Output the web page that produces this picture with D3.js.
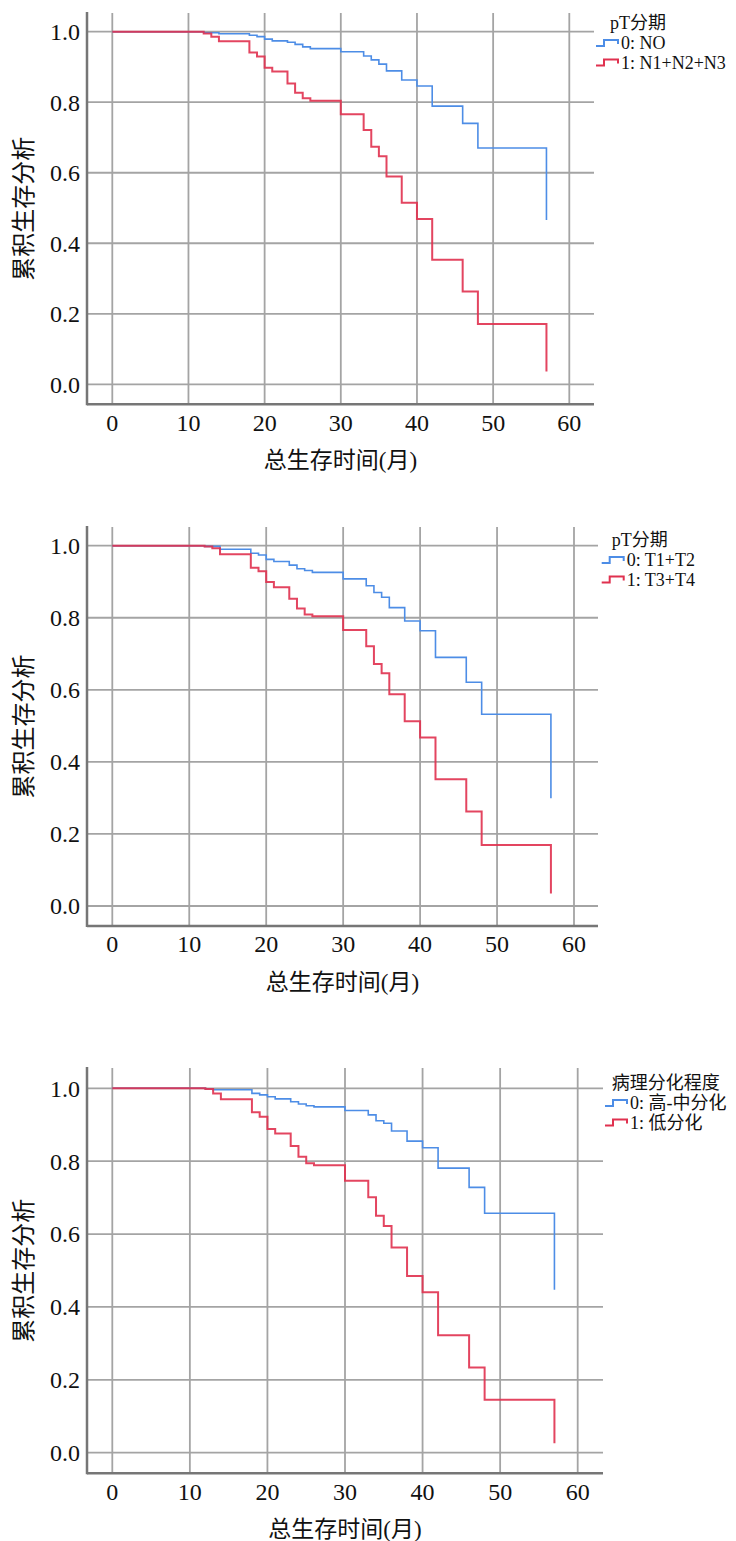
<!DOCTYPE html>
<html>
<head>
<meta charset="utf-8">
<script src="https://cdn.jsdelivr.net/npm/d3@7"></script>
<style>
  body { margin: 0; background: #fff; }
  svg { display: block; }
  text { font-family: "Liberation Serif", "Noto Sans CJK SC", serif; fill: #111; }
</style>
</head>
<body>
<svg width="736" height="1541"></svg>
<script>
// survival time (months) at which each step happens
var months = [0, 12, 13, 14, 18, 19, 20, 21, 23, 24, 25, 26, 30, 33, 34, 35, 36, 38, 40, 42, 46, 48, 57];

// cumulative survival, one value per month above
var nStage0 = [1, 0.997, 0.997, 0.994, 0.990, 0.986, 0.979, 0.974, 0.970, 0.964, 0.957, 0.952, 0.943, 0.931, 0.920, 0.908, 0.889, 0.863, 0.846, 0.789, 0.740, 0.670, 0.466];
var nStage1 = [1, 0.995, 0.986, 0.973, 0.941, 0.930, 0.898, 0.887, 0.853, 0.827, 0.811, 0.804, 0.766, 0.721, 0.674, 0.647, 0.589, 0.515, 0.469, 0.353, 0.263, 0.171, 0.036];
var tStage0 = [1, 0.998, 0.998, 0.990, 0.979, 0.974, 0.962, 0.956, 0.946, 0.936, 0.931, 0.926, 0.908, 0.889, 0.870, 0.857, 0.828, 0.791, 0.764, 0.690, 0.621, 0.532, 0.299];
var tStage1 = [1, 0.998, 0.993, 0.976, 0.939, 0.929, 0.899, 0.885, 0.853, 0.826, 0.809, 0.804, 0.766, 0.721, 0.672, 0.646, 0.588, 0.513, 0.468, 0.352, 0.262, 0.169, 0.035];
var diff0 = [1, 0.998, 0.996, 0.996, 0.986, 0.982, 0.977, 0.971, 0.963, 0.957, 0.952, 0.949, 0.939, 0.927, 0.911, 0.904, 0.883, 0.855, 0.837, 0.781, 0.728, 0.657, 0.447];
var diff1 = [1, 0.998, 0.986, 0.970, 0.934, 0.922, 0.888, 0.876, 0.842, 0.812, 0.794, 0.789, 0.746, 0.701, 0.650, 0.622, 0.563, 0.485, 0.440, 0.322, 0.234, 0.145, 0.026];

var xTicks = [0, 10, 20, 30, 40, 50, 60];
var yTicks = [0, 0.2, 0.4, 0.6, 0.8, 1.0];

var legendTitles = ["pT分期", "pT分期", "病理分化程度"];
var legendLabels = [
  ["0: NO", "1: N1+N2+N3"],
  ["0: T1+T2", "1: T3+T4"],
  ["0: 高-中分化", "1: 低分化"]
];

var xTitle = "总生存时间(月)";
var yTitle = "累积生存分析";
var colors = ["#4d8de6", "#e0314f"];

// panel geometry (pixels)
var panels = [
  {top: 13, one: 31.7, zero: 384.3, bottom: 404.3, x0: 112.3, x60: 569.3, right: 594,
   legX: 610, legTextX: 621, legY: 23, series: [nStage0, nStage1]},
  {top: 527, one: 545.7, zero: 906, bottom: 926, x0: 112.3, x60: 574, right: 598,
   legX: 611.7, legTextX: 626.7, legY: 540, series: [tStage0, tStage1]},
  {top: 1068, one: 1088.3, zero: 1452.7, bottom: 1473.3, x0: 112.3, x60: 577.7, right: 603,
   legX: 611.7, legTextX: 630, legY: 1083, series: [diff0, diff1]}
];

var svg = d3.select("svg");
var axisLeftX = 87;

panels.forEach(function(p, i) {
  var x = d3.scaleLinear().domain([0, 60]).range([p.x0, p.x60]);
  var y = d3.scaleLinear().domain([0, 1]).range([p.zero, p.one]);
  var g = svg.append("g");

  // grid
  g.selectAll(".hgrid").data(yTicks).enter().append("line")
    .attr("x1", axisLeftX).attr("x2", p.right)
    .attr("y1", function(d) { return y(d); }).attr("y2", function(d) { return y(d); })
    .attr("stroke", "#a4a4a4").attr("stroke-width", 1.8);
  g.selectAll(".vgrid").data(xTicks).enter().append("line")
    .attr("x1", function(d) { return x(d); }).attr("x2", function(d) { return x(d); })
    .attr("y1", p.top).attr("y2", p.bottom)
    .attr("stroke", "#a4a4a4").attr("stroke-width", 1.8);

  // axis lines
  g.append("line").attr("x1", axisLeftX).attr("x2", axisLeftX)
    .attr("y1", p.top - 1).attr("y2", p.bottom + 1)
    .attr("stroke", "#767676").attr("stroke-width", 2.5);
  g.append("line").attr("x1", axisLeftX).attr("x2", p.right)
    .attr("y1", p.bottom).attr("y2", p.bottom)
    .attr("stroke", "#767676").attr("stroke-width", 2.5);

  // tick labels
  g.selectAll(".ytick").data(yTicks).enter().append("text")
    .attr("x", 80).attr("y", function(d) { return y(d); })
    .attr("dy", "0.35em").attr("text-anchor", "end")
    .style("font-size", "24px")
    .text(function(d) { return d3.format(".1f")(d); });
  g.selectAll(".xtick").data(xTicks).enter().append("text")
    .attr("x", function(d) { return x(d); }).attr("y", p.bottom + 18)
    .attr("dy", "0.35em").attr("text-anchor", "middle")
    .style("font-size", "24px")
    .text(function(d) { return d; });

  // titles
  g.append("text")
    .attr("x", (axisLeftX + p.right) / 2).attr("y", p.bottom + 56)
    .attr("dy", "0.35em").attr("text-anchor", "middle")
    .style("font-size", "23px").text(xTitle);
  g.append("text")
    .attr("transform", "translate(24," + ((p.top + p.bottom) / 2) + ") rotate(-90)")
    .attr("dy", "0.35em").attr("text-anchor", "middle")
    .style("font-size", "24px").text(yTitle);

  // survival curves
  var line = d3.line()
    .x(function(d) { return x(d[0]); })
    .y(function(d) { return y(d[1]); })
    .curve(d3.curveStepAfter);
  p.series.forEach(function(s, k) {
    g.append("path")
      .datum(d3.zip(months, s))
      .attr("d", line)
      .attr("fill", "none")
      .attr("stroke", colors[k])
      .attr("stroke-width", k === 0 ? 1.6 : 2)
      .attr("stroke-opacity", k === 0 ? 1 : 0.9);
  });

  // legend
  g.append("text").attr("x", p.legX).attr("y", p.legY)
    .attr("dy", "0.35em").style("font-size", "18px").text(legendTitles[i]);
  legendLabels[i].forEach(function(lbl, k) {
    var ly = p.legY + 20 + k * 19.5;
    var sx = p.legTextX - 25;
    g.append("path")
      .attr("d", "M" + sx + "," + (ly + 3) + "H" + (sx + 8) + "V" + (ly - 3) + "H" + (sx + 22) + "V" + (ly + 1))
      .attr("fill", "none").attr("stroke", colors[k]).attr("stroke-width", 2);
    g.append("text").attr("x", p.legTextX).attr("y", ly)
      .attr("dy", "0.35em").style("font-size", "18px").text(lbl);
  });
});
</script>
</body>
</html>
